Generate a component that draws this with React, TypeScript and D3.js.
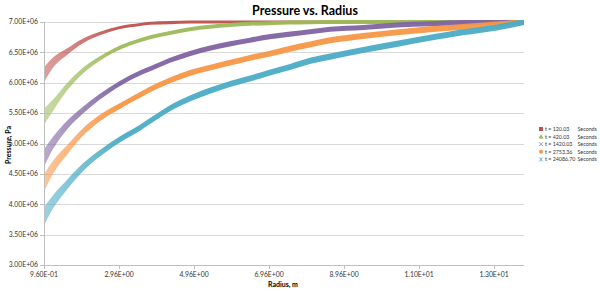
import React from "react";
import * as d3 from "d3";

// Radius (m) at which the pressure bands were read
const RADIUS = [0.96, 1.2, 1.57, 2.0, 2.45, 2.99, 3.52, 3.79, 4.32, 4.85, 5.39, 5.92, 6.45, 6.99, 7.52, 8.05, 8.59, 9.47, 10.37, 11.25, 12.13, 13.04, 13.76];

// Pressure (Pa), centre of each scatter band
const P_T120 = [6.13e6, 6.33e6, 6.51e6, 6.69e6, 6.81e6, 6.91e6, 6.96e6, 6.98e6, 6.99e6, 7.0e6, 7.0e6, 7.0e6, 7.0e6, 7.0e6, 7.0e6, 7.0e6, 7.0e6, 7.0e6, 7.0e6, 7.0e6, 7.0e6, 7.0e6, 7.0e6];
const P_T420 = [5.44e6, 5.63e6, 5.93e6, 6.2e6, 6.4e6, 6.58e6, 6.7e6, 6.75e6, 6.82e6, 6.88e6, 6.92e6, 6.95e6, 6.97e6, 6.98e6, 6.99e6, 6.995e6, 7.0e6, 7.0e6, 7.0e6, 7.0e6, 7.0e6, 7.0e6, 7.0e6];
const P_T1420 = [4.76e6, 5.01e6, 5.3e6, 5.55e6, 5.77e6, 5.99e6, 6.16e6, 6.23e6, 6.37e6, 6.48e6, 6.57e6, 6.64e6, 6.7e6, 6.76e6, 6.8e6, 6.84e6, 6.88e6, 6.91e6, 6.95e6, 6.97e6, 6.99e6, 7.0e6, 7.0e6];
const P_T2753 = [4.35e6, 4.61e6, 4.89e6, 5.19e6, 5.42e6, 5.62e6, 5.8e6, 5.89e6, 6.04e6, 6.16e6, 6.25e6, 6.33e6, 6.41e6, 6.48e6, 6.56e6, 6.63e6, 6.7e6, 6.77e6, 6.83e6, 6.88e6, 6.92e6, 6.96e6, 7.0e6];
const P_T24086 = [3.8e6, 4.04e6, 4.32e6, 4.61e6, 4.84e6, 5.07e6, 5.26e6, 5.37e6, 5.58e6, 5.74e6, 5.87e6, 5.98e6, 6.07e6, 6.17e6, 6.26e6, 6.36e6, 6.43e6, 6.54e6, 6.64e6, 6.74e6, 6.83e6, 6.91e6, 7.0e6];

// Extra scatter half-width (Pa) near the well, read at each radius
const SCATTER_EXTRA = [1.0e5, 0.6e5, 0.3e5, 0.15e5, 0.05e5, 0, 0, 0, 0, 0, 0, 0, 0, 0, 0, 0, 0, 0, 0, 0, 0, 0, 0];
// Core band half-width (Pa) of each series
const BAND_HALF = [0.025e6, 0.033e6, 0.042e6, 0.048e6, 0.05e6];

const SERIES_LABELS = ["t = 120.03", "t = 420.03", "t = 1420.03", "t = 2753.36", "t = 24086.70"];
const UNIT_LABEL = "Seconds";
const SERIES_VALUES = [P_T120, P_T420, P_T1420, P_T2753, P_T24086];
const COLORS = ["#C0504D", "#9BBB59", "#8064A2", "#F79646", "#4BACC6"];
const MARKERS = ["square", "triangle", "x", "circle", "star"];

const Y_TICKS = [3.0e6, 3.5e6, 4.0e6, 4.5e6, 5.0e6, 5.5e6, 6.0e6, 6.5e6, 7.0e6];
const X_TICKS = [0.96, 2.96, 4.96, 6.96, 8.96, 10.96, 12.96];
const X_DOMAIN = [0.96, 13.76];

const TITLE = "Pressure vs. Radius";
const X_TITLE = "Radius, m";
const Y_TITLE = "Pressure, Pa";

const FONT = "Lato, 'Open Sans', sans-serif";

function excelSci(v: number): string {
  const s = d3.format(".2e")(v);
  const [m, e] = s.split("e");
  const n = parseInt(e, 10);
  const sign = n < 0 ? "-" : "+";
  const abs = Math.abs(n).toString().padStart(2, "0");
  return `${m}E${sign}${abs}`;
}

function Marker({ type, x, y, color }: { type: string; x: number; y: number; color: string }) {
  const s = 2.0;
  if (type === "square") return <rect x={x - s} y={y - s} width={2 * s} height={2 * s} fill={color} />;
  if (type === "triangle")
    return <path d={`M${x},${y - s - 0.5}L${x + s + 0.5},${y + s}L${x - s - 0.5},${y + s}Z`} fill={color} />;
  if (type === "circle") return <circle cx={x} cy={y} r={s} fill={color} />;
  if (type === "x")
    return (
      <path d={`M${x - s},${y - s}L${x + s},${y + s}M${x - s},${y + s}L${x + s},${y - s}`} stroke={color} strokeWidth={0.7} />
    );
  return (
    <path
      d={`M${x - s},${y - s}L${x + s},${y + s}M${x - s},${y + s}L${x + s},${y - s}M${x},${y - s}L${x},${y + s}`}
      stroke={color}
      strokeWidth={0.7}
    />
  );
}

export default function App() {
  const W = 600;
  const H = 292;
  const left = 44;
  const right = 524;
  const top = 22;
  const bottom = 265;

  const x = d3.scaleLinear().domain(X_DOMAIN).range([left, right]);
  const y = d3.scaleLinear().domain([3.0e6, 7.0e6]).range([bottom, top]);

  const area = (vals: number[], half: number) =>
    d3
      .area<number>()
      .x((_, i) => x(RADIUS[i]))
      .y0((d, i) => y(d - half - SCATTER_EXTRA[i]))
      .y1((d, i) => y(d + half + SCATTER_EXTRA[i]))
      .curve(d3.curveMonotoneX)(vals) || "";

  const legendX = 541;
  const legendY0 = 129;
  const legendStep = 7.6;

  return (
    <svg width={W} height={H} style={{ position: "absolute", left: 0, top: 0, background: "#fff" }}>
      <defs>
        <clipPath id="plotclip">
          <rect x={left + 1} y={top - 2} width={right - left} height={bottom - top + 2} />
        </clipPath>
        {COLORS.map((c, i) => (
          <linearGradient key={c} id={"g" + i} gradientUnits="userSpaceOnUse" x1={left} x2={left + 75} y1={0} y2={0}>
            <stop offset="0" stopColor={c} stopOpacity={0.55} />
            <stop offset="1" stopColor={c} stopOpacity={0.95} />
          </linearGradient>
        ))}
      </defs>
      <rect x={0} y={0} width={W} height={H} fill="#fff" />
      <text x={305} y={15} textAnchor="middle" fontFamily={FONT} fontWeight="bold" fontSize={12.5} fill="#000">
        {TITLE}
      </text>

      {Y_TICKS.map((t) => (
        <line key={t} x1={left} x2={right} y1={Math.round(y(t)) + 0.5} y2={Math.round(y(t)) + 0.5} stroke="#d9d9d9" strokeWidth={1} />
      ))}

      <line x1={left + 0.5} x2={left + 0.5} y1={top} y2={bottom + 0.5} stroke="#bfbfbf" />
      <line x1={left} x2={right} y1={bottom + 0.5} y2={bottom + 0.5} stroke="#bfbfbf" />
      {Y_TICKS.map((t) => (
        <g key={"yt" + t}>
          <line x1={left - 4} x2={left} y1={Math.round(y(t)) + 0.5} y2={Math.round(y(t)) + 0.5} stroke="#bfbfbf" />
          <text x={38} y={y(t) + 2.3} textAnchor="end" fontFamily={FONT} fontSize={6.8} fill="#333">
            {excelSci(t)}
          </text>
        </g>
      ))}
      {X_TICKS.map((t) => (
        <g key={"xt" + t}>
          <line x1={Math.round(x(t)) + 0.5} x2={Math.round(x(t)) + 0.5} y1={bottom} y2={bottom + 4} stroke="#bfbfbf" />
          <text x={x(t)} y={277} textAnchor="middle" fontFamily={FONT} fontSize={6.8} fill="#333">
            {excelSci(t)}
          </text>
        </g>
      ))}

      <text x={283} y={287} textAnchor="middle" fontFamily={FONT} fontWeight="bold" fontSize={7} fill="#000">
        {X_TITLE}
      </text>
      <text
        transform={`translate(11,145) rotate(-90)`}
        textAnchor="middle"
        fontFamily={FONT}
        fontWeight="bold"
        fontSize={7}
        fill="#000"
      >
        {Y_TITLE}
      </text>

      <g clipPath="url(#plotclip)">
        {SERIES_VALUES.map((vals, i) => (
          <path key={i} d={area(vals, BAND_HALF[i])} fill={`url(#g${i})`} />
        ))}
      </g>

      {SERIES_LABELS.map((lab, i) => {
        const ly = legendY0 + i * legendStep;
        return (
          <g key={lab}>
            <Marker type={MARKERS[i]} x={legendX} y={ly} color={COLORS[i]} />
            <text x={545} y={ly + 2} fontFamily={FONT} fontSize={5.3} fill="#333">
              {lab}
            </text>
            <text x={577.5} y={ly + 2} fontFamily={FONT} fontSize={5.3} fill="#333">
              {UNIT_LABEL}
            </text>
          </g>
        );
      })}
    </svg>
  );
}
